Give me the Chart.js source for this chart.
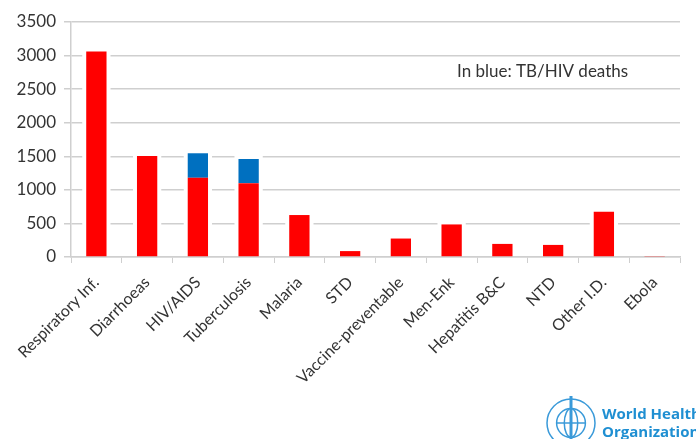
<!DOCTYPE html>
<html>
<head>
<meta charset="utf-8">
<script src="https://cdn.jsdelivr.net/npm/chart.js@4"></script>
<style>
  html, body { margin: 0; padding: 0; background: #fff; }
  #wrap { width: 696px; height: 439px; }
</style>
</head>
<body>
<div id="wrap"><canvas id="deathsChart" width="696" height="439"></canvas></div>
<script>
// Kategorien und Werte (Tausend Todesfälle)
const categories = ['Respiratory Inf.', 'Diarrhoeas', 'HIV/AIDS', 'Tuberculosis', 'Malaria', 'STD',
    'Vaccine-preventable', 'Men-Enk', 'Hepatitis B&C', 'NTD', 'Other I.D.', 'Ebola'];
const otherDeaths = [3060, 1505, 1180, 1100, 625, 88, 275, 485, 195, 180, 675, 15];
const tbHivDeaths = [0, 0, 365, 360, 0, 0, 0, 0, 0, 0, 0, 0];
const yTicks = [0, 500, 1000, 1500, 2000, 2500, 3000, 3500];

const textColor = '#333333';
const gridColor = '#cfcfcf';
const fontFamily = 'Lato, "Open Sans", sans-serif';

// weisse Lücke in den Gitterlinien neben den Balken
const gapPlugin = {
    id: 'gap',
    beforeDatasetsDraw(chart) {
        const ctx = chart.ctx;
        const meta0 = chart.getDatasetMeta(0);
        const meta1 = chart.getDatasetMeta(1);
        ctx.save();
        ctx.fillStyle = '#fff';
        meta0.data.forEach((bar, i) => {
            const top = Math.min(bar.y, meta1.data[i].y);
            const half = bar.width / 2 + 4;
            ctx.fillRect(bar.x - half, top - 4, half * 2, bar.base - top + 3);
        });
        ctx.restore();
    }
};

// Hinweistext und WHO-Logo
const notePlugin = {
    id: 'note',
    afterDraw(chart) {
        const ctx = chart.ctx;
        ctx.save();
        ctx.fillStyle = '#333';
        ctx.font = '17px ' + fontFamily;
        ctx.textBaseline = 'middle';
        ctx.fillText('In blue: TB/HIV deaths', 457, 72);

        // Emblem
        const cx = 571, cy = 423, r = 24;
        ctx.strokeStyle = '#3a9ad9';
        ctx.lineWidth = 1.5;
        ctx.beginPath(); ctx.arc(cx, cy, r, 0, Math.PI * 2); ctx.stroke();
        ctx.beginPath(); ctx.arc(cx, cy, r * 0.6, 0, Math.PI * 2); ctx.stroke();
        ctx.beginPath(); ctx.ellipse(cx, cy, r * 0.28, r * 0.6, 0, 0, Math.PI * 2); ctx.stroke();
        ctx.beginPath(); ctx.moveTo(cx - r * 0.6, cy); ctx.lineTo(cx + r * 0.6, cy); ctx.stroke();
        ctx.lineWidth = 3;
        ctx.beginPath(); ctx.moveTo(cx, cy - r - 3); ctx.lineTo(cx, cy + r - 2); ctx.stroke();

        ctx.fillStyle = '#1f8fd2';
        ctx.font = 'bold 15px "Open Sans", sans-serif';
        ctx.textBaseline = 'alphabetic';
        ctx.fillText('World Health', 602, 419);
        ctx.fillText('Organization', 602, 437);
        ctx.restore();
    }
};

new Chart(document.getElementById('deathsChart'), {
    type: 'bar',
    data: {
        labels: categories,
        datasets: [
            {
                label: 'Deaths',
                data: otherDeaths,
                backgroundColor: '#ff0000',
                categoryPercentage: 1.0,
                barPercentage: 0.4
            },
            {
                label: 'TB/HIV deaths',
                data: tbHivDeaths,
                backgroundColor: '#0070c0',
                categoryPercentage: 1.0,
                barPercentage: 0.4
            }
        ]
    },
    options: {
        responsive: false,
        animation: false,
        layout: { padding: { top: 22, right: 16, left: 0, bottom: 0 } },
        plugins: {
            legend: { display: false },
            tooltip: { enabled: false }
        },
        scales: {
            x: {
                stacked: true,
                afterFit(scale) { scale.height = 182; },
                grid: { display: true, drawOnChartArea: false, color: gridColor, tickLength: 6 },
                border: { color: gridColor, width: 1.5 },
                ticks: {
                    color: textColor,
                    font: { family: fontFamily, size: 16 },
                    maxRotation: 45,
                    minRotation: 45,
                    autoSkip: false,
                    padding: 10
                }
            },
            y: {
                stacked: true,
                min: 0,
                max: 3500,
                afterFit(scale) { scale.width = 71; },
                afterBuildTicks(scale) { scale.ticks = yTicks.map(v => ({ value: v })); },
                grid: { color: gridColor, lineWidth: 1.5, tickLength: 7 },
                border: { color: gridColor, width: 1.5 },
                ticks: {
                    color: textColor,
                    font: { family: fontFamily, size: 17 },
                    padding: 8,
                    callback: value => String(value)
                }
            }
        }
    },
    plugins: [gapPlugin, notePlugin]
});
</script>
</body>
</html>
